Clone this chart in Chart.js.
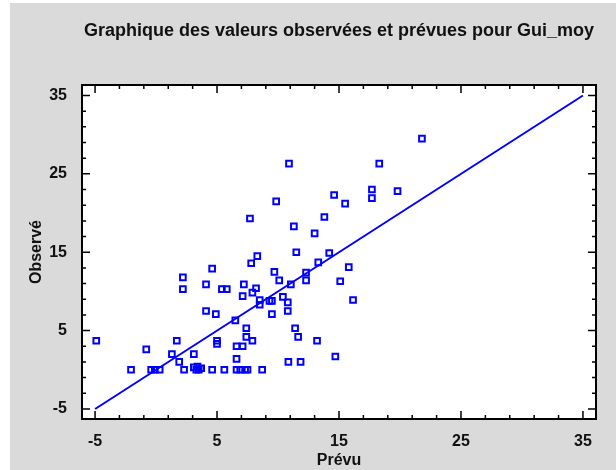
<!DOCTYPE html>
<html>
<head>
<meta charset="utf-8">
<script src="https://cdn.jsdelivr.net/npm/chart.js@4.4.1/dist/chart.umd.min.js"></script>
<style>
  body { margin: 0; background: #fff; }
  canvas { display: block; }
</style>
</head>
<body>
<canvas id="obs-chart" width="616" height="470"></canvas>
<script>
// Data
const predicted = [-4.9, -2.05, -0.8, -0.4, -0.1, 0.3, 1.3, 1.7, 1.9, 2.2, 2.2, 2.3, 3.1, 3.1, 3.3, 3.4, 3.5, 3.7,
  4.1, 4.1, 4.6, 4.6, 4.9, 5.0, 5.0, 5.4, 5.8, 5.6, 6.5, 6.6, 6.6, 6.6, 6.9, 7.3, 7.5, 7.1, 7.1, 7.2, 7.4, 7.4,
  7.7, 7.8, 7.9, 7.9, 8.2, 8.3, 8.5, 8.5, 8.7, 9.3, 9.5, 9.5, 9.7, 9.85, 10.1, 10.4, 10.8, 10.8, 10.9, 10.85,
  11.05, 11.3, 11.4, 11.5, 11.65, 11.85, 12.3, 12.3, 13.0, 13.2, 13.3, 13.8, 14.2, 14.6, 14.7, 15.1, 15.5, 15.8,
  16.15, 17.7, 17.7, 18.3, 19.8, 21.8];
const observed = [3.7, 0, 2.6, 0, 0, 0, 2.0, 3.7, 1.0, 11.8, 10.3, 0, 2.0, 0.3, 0, 0.4, 0, 0.2,
  10.9, 7.5, 0, 12.9, 7.1, 3.7, 3.3, 10.3, 10.3, 0, 6.3, 3.0, 1.4, 0, 0, 0, 0, 3.0, 9.4, 10.9, 5.3, 4.2,
  19.3, 13.6, 9.85, 3.7, 10.4, 14.5, 8.9, 8.3, 0, 8.8, 8.8, 7.1, 12.5, 21.5, 11.4, 9.3, 8.6, 7.5, 26.3, 1.0,
  10.9, 18.3, 5.3, 15.0, 4.2, 1.0, 12.4, 11.4, 17.4, 3.7, 13.7, 19.5, 14.9, 22.3, 1.7, 11.3, 21.2, 13.1,
  8.9, 23.0, 21.9, 26.3, 22.8, 29.5];
const fitX = [-5, 35];
const fitY = [-5, 35];
const majorTicks = [-5, 5, 15, 25, 35];
const minorTicks = [-5, -3, -1, 1, 3, 5, 7, 9, 11, 13, 15, 17, 19, 21, 23, 25, 27, 29, 31, 33, 35];

const blue = '#0000ff';
const textColor = '#111';
const fontFamily = '"Liberation Sans", Arial, sans-serif';

// gray panel, plot frame and inward tick marks
const framePlugin = {
  id: 'frame',
  beforeDraw(chart) {
    const ctx = chart.ctx;
    const a = chart.chartArea;
    ctx.save();
    ctx.fillStyle = '#fff';
    ctx.fillRect(0, 0, chart.width, chart.height);
    ctx.fillStyle = '#dadada';
    ctx.fillRect(10, 3, chart.width - 10, chart.height - 3);
    ctx.fillStyle = '#fff';
    ctx.fillRect(a.left, a.top, a.right - a.left, a.bottom - a.top);
    ctx.restore();
  },
  afterDatasetsDraw(chart) {
    const ctx = chart.ctx;
    const a = chart.chartArea;
    const x = chart.scales.x;
    const y = chart.scales.y;
    ctx.save();
    ctx.strokeStyle = '#000';
    ctx.lineWidth = 1.5;
    ctx.beginPath();
    minorTicks.forEach(v => {
      const len = majorTicks.includes(v) ? 8 : 4;
      const px = x.getPixelForValue(v);
      ctx.moveTo(px, a.top); ctx.lineTo(px, a.top + len);
      ctx.moveTo(px, a.bottom); ctx.lineTo(px, a.bottom - len);
      const py = y.getPixelForValue(v);
      ctx.moveTo(a.left, py); ctx.lineTo(a.left + len, py);
      ctx.moveTo(a.right, py); ctx.lineTo(a.right - len, py);
    });
    ctx.stroke();
    ctx.lineWidth = 2;
    ctx.strokeRect(a.left, a.top, a.right - a.left, a.bottom - a.top);
    ctx.restore();
  }
};

const points = predicted.map((p, i) => ({ x: p, y: observed[i] }));
const fitLine = fitX.map((p, i) => ({ x: p, y: fitY[i] }));

const obsChart = new Chart(document.getElementById('obs-chart'), {
  type: 'scatter',
  data: {
    datasets: [
      {
        data: points,
        pointStyle: 'rect',
        pointRadius: 4,
        borderColor: blue,
        backgroundColor: 'rgba(255,255,255,0)',
        borderWidth: 2,
        order: 1
      },
      {
        type: 'line',
        data: fitLine,
        borderColor: blue,
        borderWidth: 2,
        pointRadius: 0,
        fill: false,
        order: 2
      }
    ]
  },
  options: {
    responsive: false,
    animation: false,
    layout: { padding: { left: 10, right: 20, top: 0, bottom: 0 } },
    plugins: {
      legend: { display: false },
      tooltip: { enabled: false },
      title: {
        display: true,
        fullSize: false,
        text: 'Graphique des valeurs observées et prévues pour Gui_moy',
        color: textColor,
        font: { family: fontFamily, size: 18, weight: 'bold' },
        padding: { top: 20, bottom: 43.4 }
      }
    },
    scales: {
      x: {
        type: 'linear',
        min: -6.07,
        max: 36.07,
        afterFit(scale) { scale.height = 51; },
        afterBuildTicks(scale) { scale.ticks = majorTicks.map(v => ({ value: v })); },
        grid: { display: false },
        border: { display: false },
        ticks: {
          color: textColor,
          padding: 5,
          maxRotation: 0,
          font: { family: fontFamily, size: 16, weight: 'bold' }
        },
        title: {
          display: true,
          text: 'Prévu',
          color: textColor,
          font: { family: fontFamily, size: 16, weight: 'bold' },
          padding: { top: 0, bottom: 0 }
        }
      },
      y: {
        type: 'linear',
        min: -6.28,
        max: 36.34,
        afterFit(scale) { scale.width = 72; },
        afterBuildTicks(scale) { scale.ticks = majorTicks.map(v => ({ value: v })); },
        grid: { display: false },
        border: { display: false },
        ticks: {
          color: textColor,
          padding: 7,
          font: { family: fontFamily, size: 16, weight: 'bold' }
        },
        title: {
          display: true,
          text: 'Observé',
          color: textColor,
          font: { family: fontFamily, size: 16, weight: 'bold' },
          padding: { top: 17, bottom: 0 }
        }
      }
    }
  },
  plugins: [framePlugin]
});
</script>
</body>
</html>
